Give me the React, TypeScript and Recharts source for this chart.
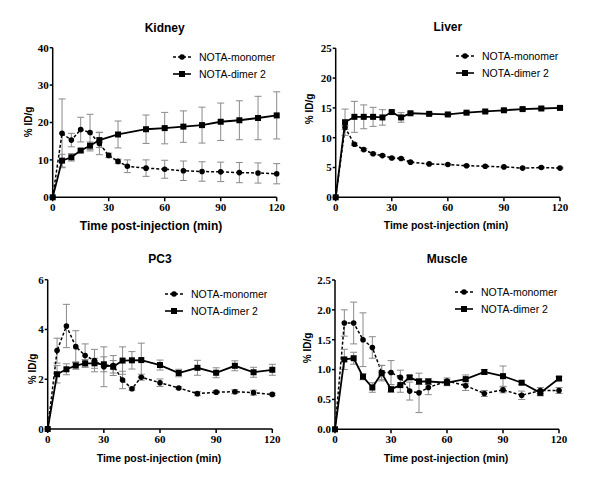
import React from "react";
import { ComposedChart, Line, XAxis, YAxis, ErrorBar } from "recharts";

// sampling times (min)
const timesFull = [0, 5, 10, 15, 20, 25, 30, 35, 40, 50, 60, 70, 80, 90, 100, 110, 120];
const timesKidneyDimer = [0, 5, 10, 15, 20, 25, 35, 50, 60, 70, 80, 90, 100, 110, 120];
const timesFine = [0, 5, 10, 15, 20, 25, 30, 35, 40, 45, 50, 60, 70, 80, 90, 100, 110, 120];
const xTicks = [0, 30, 60, 90, 120];

// Kidney
const kidneyMono = [0, 17.1, 15.3, 18.1, 17.3, 14.4, 11.2, 9.6, 8.3, 7.8, 7.5, 7.1, 6.9, 6.8, 6.6, 6.5, 6.3];
const kidneyMonoSd = [0, 9.2, 1.8, 3.3, 4.9, 3.0, 0.6, 0.6, 1.7, 2.2, 2.4, 2.6, 2.6, 2.6, 2.7, 2.7, 2.7];
const kidneyDimer = [0, 9.8, 10.7, 12.5, 13.8, 15.3, 16.8, 18.2, 18.5, 18.9, 19.3, 20.2, 20.6, 21.2, 21.9];
const kidneyDimerSd = [0, 1.7, 1.0, 0.4, 1.0, 2.0, 3.6, 3.8, 4.2, 4.2, 4.8, 5.0, 5.2, 5.8, 6.3];
const kidneyTicks = [0, 10, 20, 30, 40];

// Liver
const liverMono = [0, 11.7, 8.9, 8.0, 7.3, 7.0, 6.6, 6.5, 5.9, 5.6, 5.5, 5.3, 5.2, 5.1, 4.9, 5.0, 4.9];
const liverMonoSd = [0, 0.3, 0.2, 0.2, 0.15, 0.15, 0.15, 0.15, 0.1, 0.1, 0.1, 0.1, 0.1, 0.1, 0.1, 0.1, 0.1];
const liverDimer = [0, 12.6, 13.5, 13.5, 13.5, 13.4, 14.3, 13.4, 14.1, 14.0, 13.9, 14.2, 14.4, 14.6, 14.8, 14.9, 15.0];
const liverDimerSd = [0, 2.2, 2.6, 2.0, 1.6, 1.3, 0.2, 0.8, 0.2, 0.2, 0.2, 0.2, 0.2, 0.2, 0.2, 0.2, 0.2];
const liverTicks = [0, 5, 10, 15, 20, 25];

// PC3
const pc3Mono = [0, 3.15, 4.14, 3.31, 2.95, 2.75, 2.5, 2.55, 1.97, 1.62, 2.08, 1.86, 1.65, 1.42, 1.48, 1.5, 1.46, 1.39];
const pc3MonoSd = [0, 0.5, 0.87, 0.64, 0.47, 0.45, 0.8, 0.4, 0.35, 0.06, 0.12, 0.15, 0.05, 0.08, 0.06, 0.08, 0.1, 0.05];
const pc3Dimer = [0, 2.2, 2.4, 2.55, 2.64, 2.64, 2.6, 2.5, 2.75, 2.76, 2.77, 2.57, 2.25, 2.46, 2.26, 2.54, 2.28, 2.38];
const pc3DimerSd = [0, 0.35, 0.22, 0.15, 0.15, 0.2, 0.3, 0.25, 0.55, 0.35, 0.68, 0.2, 0.15, 0.3, 0.2, 0.2, 0.2, 0.22];
const pc3Ticks = [0, 2, 4, 6];

// Muscle
const muscleMono = [0, 1.78, 1.78, 1.5, 1.37, 0.95, 0.95, 0.87, 0.64, 0.61, 0.7, 0.81, 0.73, 0.6, 0.66, 0.57, 0.65, 0.65];
const muscleMonoSd = [0, 0.22, 0.35, 0.45, 0.18, 0.12, 0.2, 0.12, 0.15, 0.33, 0.12, 0.05, 0.08, 0.05, 0.05, 0.07, 0.05, 0.05];
const muscleDimer = [0, 1.17, 1.19, 0.88, 0.7, 0.94, 0.67, 0.74, 0.87, 0.8, 0.8, 0.78, 0.84, 0.96, 0.89, 0.78, 0.61, 0.85];
const muscleDimerSd = [0, 0.17, 0.1, 0.05, 0.08, 0.13, 0.05, 0.12, 0.03, 0.05, 0.05, 0.05, 0.07, 0.04, 0.17, 0.03, 0.05, 0.03];
const muscleTicks = [0, 0.5, 1.0, 1.5, 2.0, 2.5];

const SANS = "'Liberation Sans', Arial, sans-serif";
const SERIF = "'Liberation Serif', 'Times New Roman', serif";
const ERR = "#8a8a8a";

const toRows = (times: number[], vals: number[], sd: number[]) =>
  times.map((t, i) => ({ t, v: vals[i], sd: sd[i] }));

const SquareDot = (props: any) => {
  const { cx, cy, index } = props;
  if (cx == null || cy == null) return <g key={`s${index}`} />;
  return <rect key={`s${index}`} x={cx - 3} y={cy - 3} width={6} height={6} fill="#000" />;
};

const panels = [
  {
    name: "Kidney", left: 0, top: 0,
    plot: { left: 52.7, right: 276.7, top: 47.7, bottom: 197.3 },
    yTicks: kidneyTicks, fmt: (v: number) => String(v),
    mono: toRows(timesFull, kidneyMono, kidneyMonoSd),
    dimer: toRows(timesKidneyDimer, kidneyDimer, kidneyDimerSd),
    titleY: 28, xTitle: { x: 151, y: 226, size: 12 }, yTitle: { x: 28, y: 122 }, legend: { x: 173, y: 57 },
  },
  {
    name: "Liver", left: 300, top: 0,
    plot: { left: 35.7, right: 260, top: 48.3, bottom: 197.3 },
    yTicks: liverTicks, fmt: (v: number) => String(v),
    mono: toRows(timesFull, liverMono, liverMonoSd),
    dimer: toRows(timesFull, liverDimer, liverDimerSd),
    titleY: 27, xTitle: { x: 146, y: 225, size: 10.5 }, yTitle: { x: 9, y: 109 }, legend: { x: 156, y: 56 },
  },
  {
    name: "PC3", left: 0, top: 240,
    plot: { left: 47.7, right: 272.3, top: 39.7, bottom: 189 },
    yTicks: pc3Ticks, fmt: (v: number) => String(v),
    mono: toRows(timesFine, pc3Mono, pc3MonoSd),
    dimer: toRows(timesFine, pc3Dimer, pc3DimerSd),
    titleY: 19, xTitle: { x: 159, y: 217.5, size: 10.5 }, yTitle: { x: 32, y: 129 }, legend: { x: 165, y: 54.3 },
  },
  {
    name: "Muscle", left: 300, top: 240,
    plot: { left: 35, right: 259, top: 40, bottom: 189.3 },
    yTicks: muscleTicks, fmt: (v: number) => v.toFixed(1),
    mono: toRows(timesFine, muscleMono, muscleMonoSd),
    dimer: toRows(timesFine, muscleDimer, muscleDimerSd),
    titleY: 19, xTitle: { x: 146, y: 218, size: 10.5 }, yTitle: { x: 7, y: 108 }, legend: { x: 155, y: 52.3 },
  },
];

const W = 300;
const H = 243;
const X_AXIS_H = 20;
const Y_AXIS_W = 30;

function LegendBox({ x, y }: { x: number; y: number }) {
  const row = (dashed: boolean, label: string, dy: number) => (
    <div style={{ position: "absolute", left: x, top: y + dy - 6, height: 12, display: "flex", alignItems: "center", whiteSpace: "nowrap" }}>
      <svg width={18} height={8} style={{ marginRight: 8 }}>
        <line x1={0} y1={4} x2={18} y2={4} stroke="#000" strokeWidth={1.6} strokeDasharray={dashed ? "3 2" : undefined} />
        {dashed ? <circle cx={9} cy={4} r={2.8} fill="#000" /> : <rect x={6} y={1} width={6} height={6} fill="#000" />}
      </svg>
      <span style={{ fontFamily: SANS, fontSize: 10.5, color: "#000" }}>{label}</span>
    </div>
  );
  return (
    <>
      {row(true, "NOTA-monomer", 0)}
      {row(false, "NOTA-dimer 2", 17)}
    </>
  );
}

function Panel({ p }: { p: (typeof panels)[number] }) {
  const yMax = p.yTicks[p.yTicks.length - 1];
  const tick = { fontFamily: SERIF, fontWeight: 700, fontSize: 11, fill: "#000" };
  return (
    <div style={{ position: "absolute", left: p.left, top: p.top, width: W, height: H }}>
      <ComposedChart
        width={W}
        height={H}
        margin={{
          top: p.plot.top,
          right: W - p.plot.right,
          bottom: H - p.plot.bottom - X_AXIS_H,
          left: p.plot.left - Y_AXIS_W,
        }}
      >
        <XAxis
          type="number"
          dataKey="t"
          domain={[0, 120]}
          ticks={xTicks}
          height={X_AXIS_H}
          tick={tick}
          tickSize={4}
          tickMargin={2}
          stroke="#000"
          strokeWidth={1.5}
          allowDuplicatedCategory={false}
        />
        <YAxis
          type="number"
          domain={[0, yMax]}
          ticks={p.yTicks}
          tickFormatter={p.fmt}
          width={Y_AXIS_W}
          tick={tick}
          tickSize={3}
          tickMargin={1}
          stroke="#000"
          strokeWidth={1.5}
        />
        <Line
          data={p.mono}
          dataKey="v"
          stroke="#000"
          strokeWidth={1.5}
          strokeDasharray="3 2"
          dot={{ r: 2.8, fill: "#000", stroke: "none" }}
          activeDot={false}
          isAnimationActive={false}
        >
          <ErrorBar dataKey="sd" width={3.5} stroke={ERR} strokeWidth={1} direction="y" />
        </Line>
        <Line
          data={p.dimer}
          dataKey="v"
          stroke="#000"
          strokeWidth={1.8}
          dot={SquareDot}
          activeDot={false}
          isAnimationActive={false}
        >
          <ErrorBar dataKey="sd" width={3.5} stroke={ERR} strokeWidth={1} direction="y" />
        </Line>
      </ComposedChart>
      <div
        style={{
          position: "absolute", left: (p.plot.left + p.plot.right) / 2, top: p.titleY,
          transform: "translate(-50%, -50%)", fontFamily: SANS, fontWeight: 700, fontSize: 12,
          whiteSpace: "nowrap", color: "#000",
        }}
      >
        {p.name}
      </div>
      <div
        style={{
          position: "absolute", left: p.xTitle.x, top: p.xTitle.y,
          transform: "translate(-50%, -50%)", fontFamily: SANS, fontWeight: 700, fontSize: p.xTitle.size,
          whiteSpace: "nowrap", color: "#000",
        }}
      >
        Time post-injection (min)
      </div>
      <div
        style={{
          position: "absolute", left: p.yTitle.x, top: p.yTitle.y,
          transform: "translate(-50%, -50%) rotate(-90deg)", fontFamily: SANS, fontWeight: 700, fontSize: 10,
          whiteSpace: "nowrap", color: "#000",
        }}
      >
        % ID/g
      </div>
      <LegendBox x={p.legend.x} y={p.legend.y} />
    </div>
  );
}

export default function App() {
  return (
    <div style={{ position: "absolute", left: 0, top: 0, width: 600, height: 483, background: "#fff" }}>
      {panels.map((p) => (
        <Panel key={p.name} p={p} />
      ))}
    </div>
  );
}
